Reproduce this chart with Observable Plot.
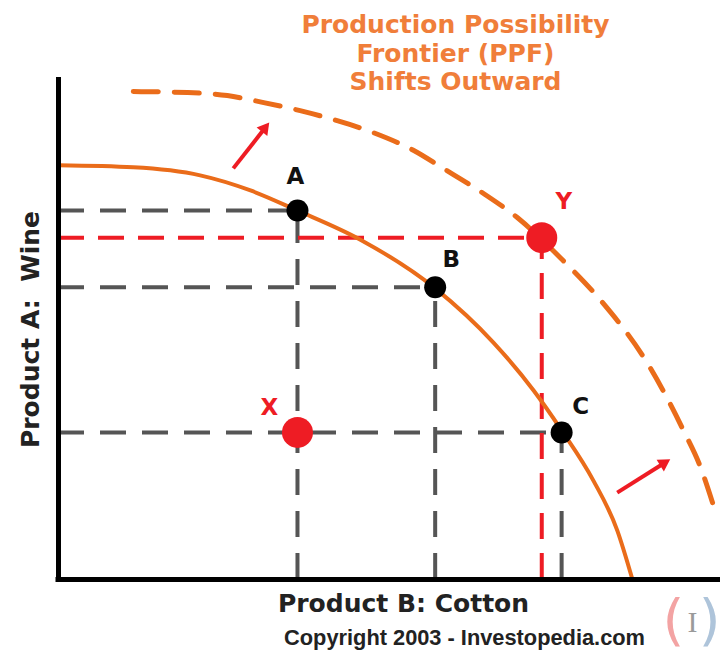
<!DOCTYPE html>
<html>
<head>
<meta charset="utf-8">
<script src="https://cdn.jsdelivr.net/npm/d3@7"></script>
<script src="https://cdn.jsdelivr.net/npm/@observablehq/plot@0.6"></script>
<style>
  html, body { margin: 0; padding: 0; background: #fff; }
  #chart svg { display: block; }
</style>
</head>
<body>
<div id="chart"></div>
<script>
// ---- data ----
const titleText = "Production Possibility\nFrontier (PPF)\nShifts Outward";
const xLabel = "Product B: Cotton";
const yLabel = "Product A:  Wine";
const copyright = "Copyright 2003 - Investopedia.com";

// Production possibility frontier (solid)
const ppfCotton = [0, 1.13, 2.14, 2.90, 3.61, 4.56, 5.69, 6.57, 7.18, 7.60, 8.08, 8.44, 8.67];
const ppfWine   = [8.25, 8.21, 8.05, 7.75, 7.35, 6.77, 5.80, 4.72, 3.76, 2.97, 1.97, 0.98, 0];

// Shifted frontier (dashed)
const shiftCotton = [1.13, 1.95, 2.55, 3.10, 3.65, 4.21, 4.76, 5.36, 5.81, 6.42, 6.93, 7.58, 8.19, 8.90, 9.44, 9.70, 9.88];
const shiftWine   = [9.72, 9.70, 9.64, 9.50, 9.34, 9.14, 8.90, 8.55, 8.19, 7.69, 7.21, 6.41, 5.56, 4.30, 2.97, 2.23, 1.53];

// Labelled points
const pointNames  = ["A", "B", "C", "X", "Y"];
const pointCotton = [3.61, 5.69, 7.60, 3.61, 7.30];
const pointWine   = [7.35, 5.82, 2.93, 2.93, 6.81];
const pointKind   = ["frontier", "frontier", "frontier", "inside", "beyond"];

// Shift arrows (tail -> head)
const arrowTailCotton = [2.64, 8.44];
const arrowTailWine   = [8.19, 1.73];
const arrowHeadCotton = [3.11, 9.14];
const arrowHeadWine   = [8.98, 2.31];

// ---- layout constants ----
const W = 720, H = 658, ML = 58, MR = 0, MT = 77, MB = 79;
const XMAX = 10, YMAX = 10;
const kx = (W - ML - MR) / XMAX, ky = (H - MT - MB) / YMAX;

// ---- build tables ----
const ppf = ppfCotton.map((c, i) => ({cotton: c, wine: ppfWine[i]}));
const shifted = shiftCotton.map((c, i) => ({cotton: c, wine: shiftWine[i]}));
const points = pointNames.map((n, i) => ({name: n, cotton: pointCotton[i], wine: pointWine[i], kind: pointKind[i]}));
const arrows = arrowTailCotton.map((c, i) => {
  const x1 = c, y1 = arrowTailWine[i], x2 = arrowHeadCotton[i], y2 = arrowHeadWine[i];
  const angle = Math.atan2((x2 - x1) * kx, (y2 - y1) * ky) * 180 / Math.PI;
  return {x1, y1, x2, y2, angle};
});

const P = Object.fromEntries(points.map(p => [p.name, p]));
const grayH = ["A", "B", "C"].map(n => ({y: P[n].wine, x2: P[n].cotton}));
const grayV = ["A", "B", "C"].map(n => ({x: P[n].cotton, y2: P[n].wine}));
const redH = [{y: P.Y.wine, x2: P.Y.cotton}];
const redV = [{x: P.Y.cotton, y2: P.Y.wine}];

// ---- styles ----
const ORANGE = "#ea6c1a";
const TITLE_ORANGE = "#f07e3a";
const RED = "#ee1c24";
const GRAY = "#555555";
const FONT = "DejaVu Sans, Verdana, sans-serif";
const labelStyle = {
  A: {dx: -2, dy: -34, fill: "#111"},
  B: {dx: 16, dy: -28, fill: "#111"},
  C: {dx: 19, dy: -26, fill: "#111"},
  X: {dx: -28, dy: -25, fill: RED},
  Y: {dx: 22, dy: -36, fill: RED}
};

const marks = [
  // guide lines
  Plot.ruleY(grayH, {y: "y", x1: 0, x2: "x2", stroke: GRAY, strokeWidth: 4, strokeDasharray: "26,16"}),
  Plot.ruleX(grayV, {x: "x", y1: 0, y2: "y2", stroke: GRAY, strokeWidth: 4, strokeDasharray: "26,16"}),
  Plot.ruleY(redH, {y: "y", x1: 0, x2: "x2", stroke: RED, strokeWidth: 4, strokeDasharray: "26,14"}),
  Plot.ruleX(redV, {x: "x", y1: 0, y2: "y2", stroke: RED, strokeWidth: 4, strokeDasharray: "26,14"}),
  // frontiers
  Plot.line(shifted, {x: "cotton", y: "wine", curve: "monotone-x", stroke: ORANGE, strokeWidth: 5, strokeDasharray: "25,16"}),
  Plot.line(ppf, {x: "cotton", y: "wine", curve: "monotone-x", stroke: ORANGE, strokeWidth: 4}),
  // arrows
  Plot.link(arrows, {x1: "x1", y1: "y1", x2: "x2", y2: "y2", stroke: RED, strokeWidth: 4}),
  Plot.dot(arrows, {x: "x2", y: "y2", symbol: "triangle2", r: 6.5, fill: RED, rotate: "angle"}),
  // points
  Plot.dot(points.filter(p => p.kind === "frontier"), {x: "cotton", y: "wine", r: 11, fill: "#000"}),
  Plot.dot(points.filter(p => p.kind !== "frontier"), {x: "cotton", y: "wine", r: 15.5, fill: RED}),
  // axes
  Plot.ruleX([0], {stroke: "#000", strokeWidth: 5}),
  Plot.ruleY([0], {stroke: "#000", strokeWidth: 5, strokeLinecap: "square"}),
  // point labels
  ...points.map(p => Plot.text([p], {
    x: "cotton", y: "wine", text: "name",
    dx: labelStyle[p.name].dx, dy: labelStyle[p.name].dy,
    fill: labelStyle[p.name].fill, fontSize: 23, fontWeight: "bold", fontFamily: FONT
  })),
  // title
  Plot.text([titleText], {frameAnchor: "top", dx: 66, dy: -25, lineAnchor: "middle", lineHeight: 1.15,
    fill: TITLE_ORANGE, fontSize: 25, fontWeight: "bold", fontFamily: FONT}),
  // axis labels
  Plot.text([yLabel], {frameAnchor: "left", dx: -28, dy: 1, rotate: -90, textAnchor: "middle", lineAnchor: "middle",
    fill: "#222", fontSize: 25, fontWeight: "bold", fontFamily: FONT}),
  Plot.text([xLabel], {frameAnchor: "bottom", dx: 14, dy: 24, lineAnchor: "middle",
    fill: "#222", fontSize: 25, fontWeight: "bold", fontFamily: FONT}),
  Plot.text([copyright], {frameAnchor: "bottom", dx: 75, dy: 59, lineAnchor: "middle",
    fill: "#222", fontSize: 21.8, fontWeight: "bold", fontFamily: "Liberation Sans, Arial, sans-serif"}),
  // logo
  Plot.text(["("], {frameAnchor: "bottom-right", dx: -47, dy: 42, lineAnchor: "middle", textAnchor: "middle",
    fill: "#f3a3a3", fontSize: 56, fontFamily: FONT}),
  Plot.text(["I"], {frameAnchor: "bottom-right", dx: -28, dy: 43, lineAnchor: "middle", textAnchor: "middle",
    fill: "#9a9a9a", fontSize: 30, fontFamily: "Liberation Serif, serif"}),
  Plot.text([")"], {frameAnchor: "bottom-right", dx: 0, dy: 42, lineAnchor: "middle", textAnchor: "end",
    fill: "#aec4da", fontSize: 56, fontFamily: FONT})
];

const chart = Plot.plot({
  width: W,
  height: H,
  marginLeft: ML,
  marginRight: MR,
  marginTop: MT,
  marginBottom: MB,
  x: {domain: [0, XMAX], axis: null},
  y: {domain: [0, YMAX], axis: null},
  style: {background: "#fff", fontFamily: FONT, overflow: "visible"},
  marks
});
document.getElementById("chart").appendChild(chart);
</script>
</body>
</html>
